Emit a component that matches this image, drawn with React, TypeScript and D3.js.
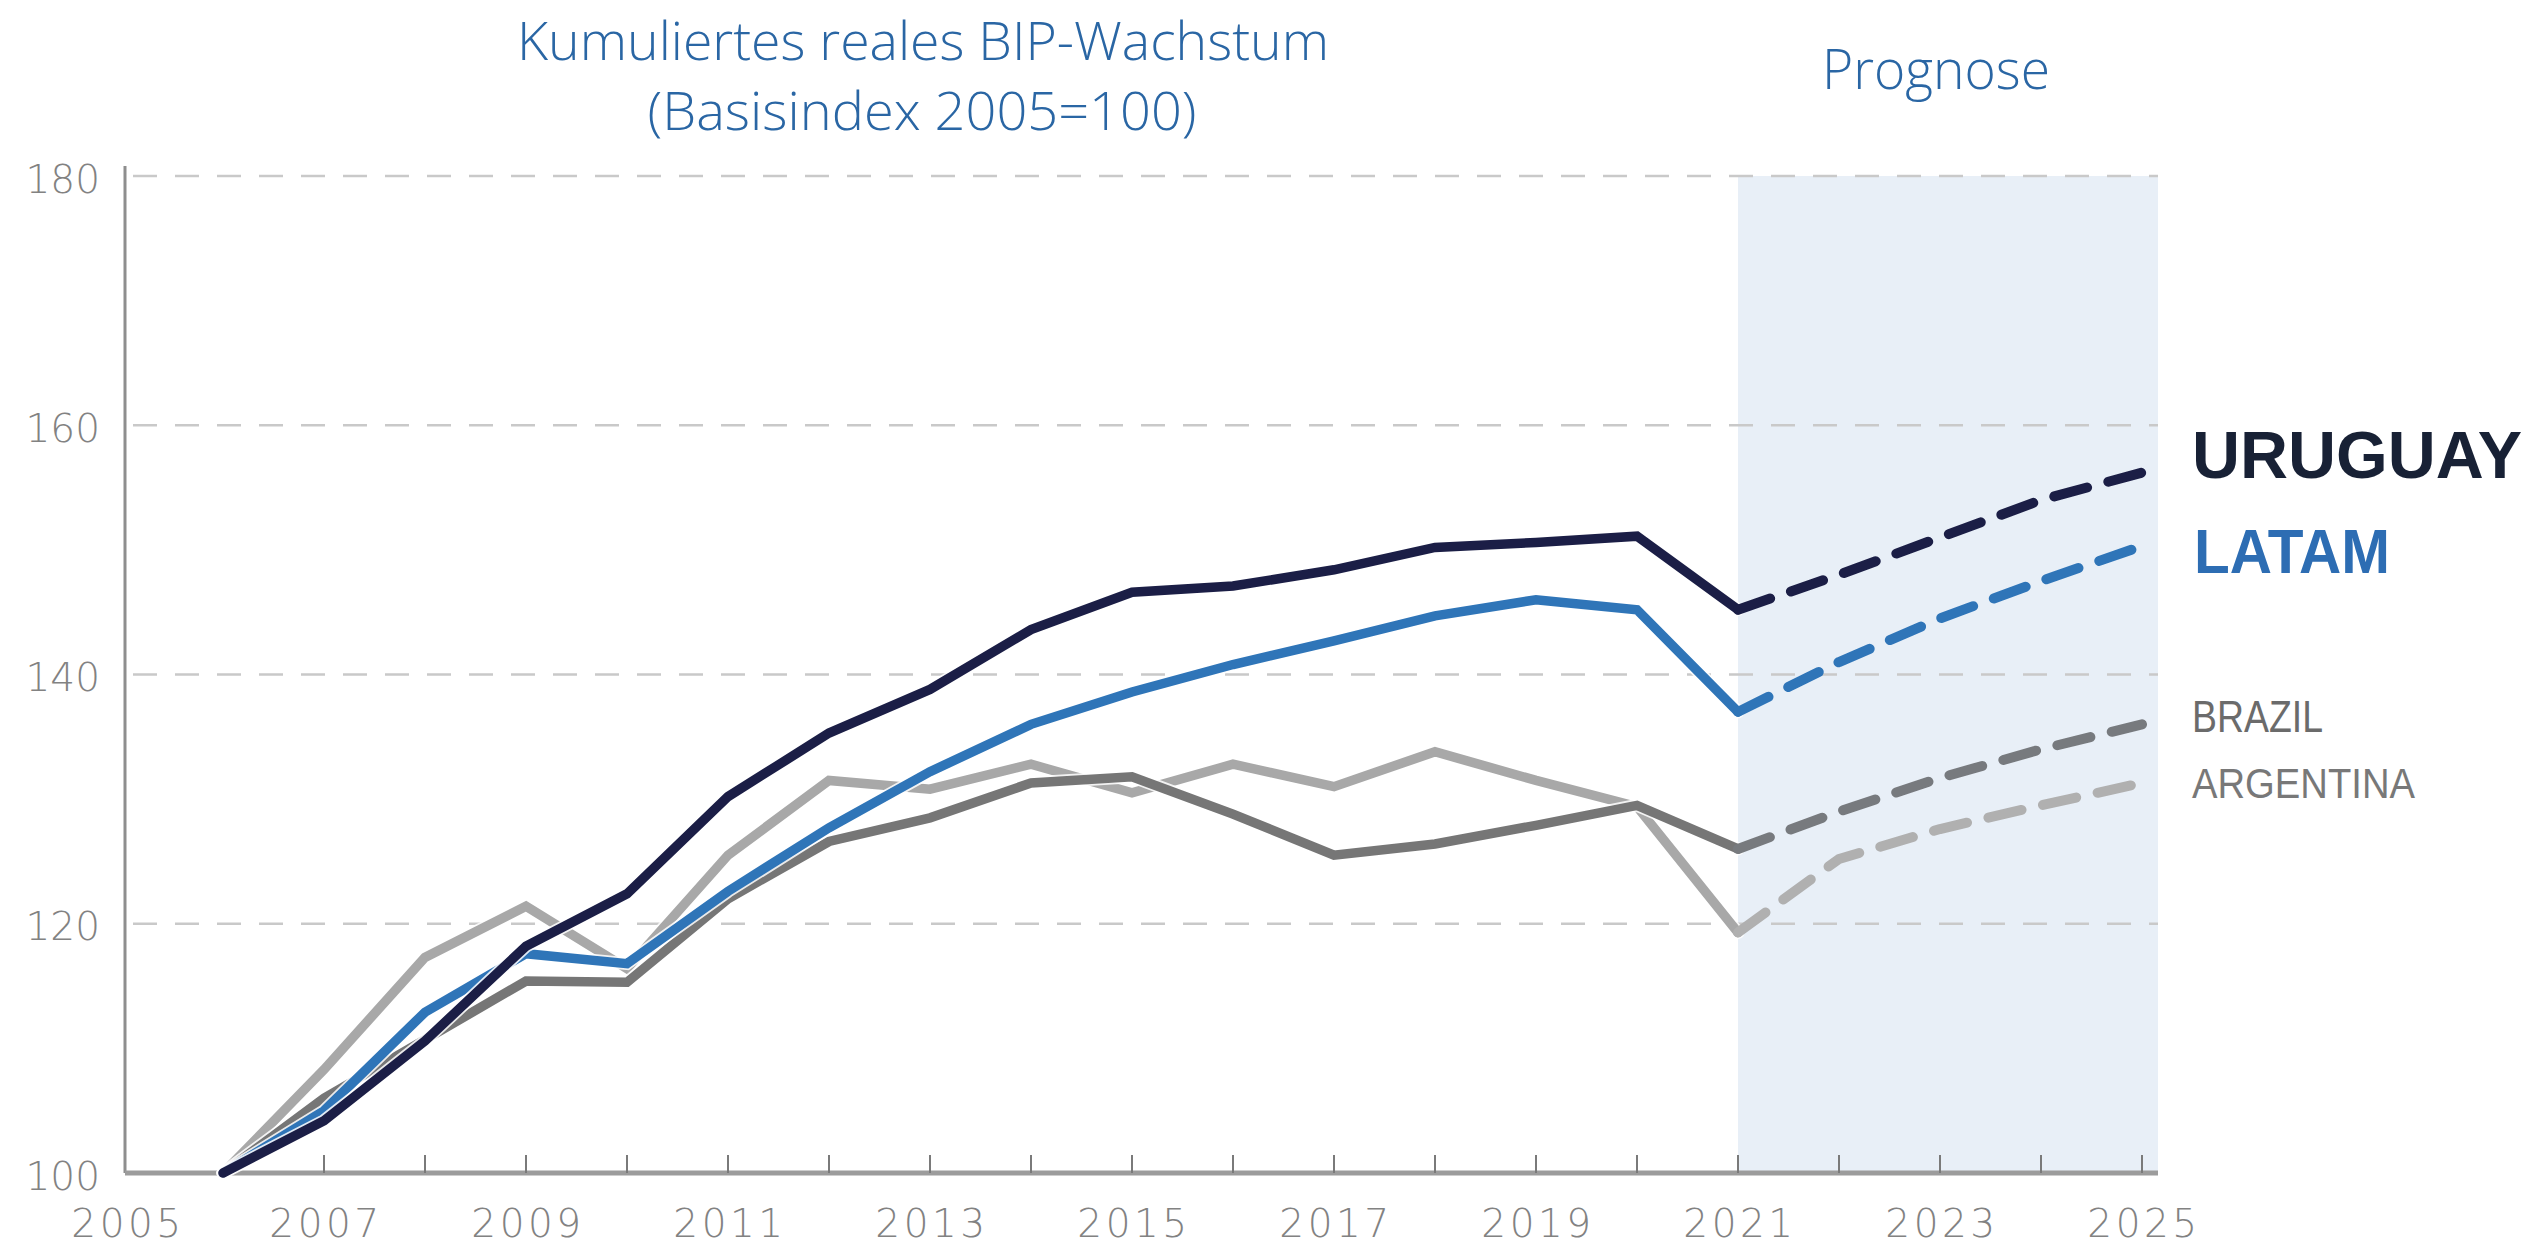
import React from "react";
import * as d3 from "d3";

// ---- data ----
const years = [2006, 2007, 2008, 2009, 2010, 2011, 2012, 2013, 2014, 2015, 2016, 2017, 2018, 2019, 2020, 2021];
const uruguay = [100, 104.2, 110.6, 118.2, 122.4, 130.2, 135.3, 138.8, 143.6, 146.6, 147.1, 148.4, 150.2, 150.6, 151.1, 145.2];
const latam = [100, 105.0, 112.9, 117.6, 116.8, 122.6, 127.7, 132.2, 136.0, 138.6, 140.8, 142.7, 144.7, 146.0, 145.2, 137.0];
const brazil = [100, 106.0, 110.7, 115.4, 115.3, 122.0, 126.6, 128.5, 131.3, 131.8, 128.8, 125.5, 126.4, 127.9, 129.5, 126.0];
const argentina = [100, 108.3, 117.3, 121.4, 116.4, 125.5, 131.5, 130.8, 132.8, 130.5, 132.8, 131.0, 133.8, 131.5, 129.4, 119.3];

const forecastYears = [2021, 2022, 2023, 2024, 2025];
const uruguayForecast = [145.2, 148.0, 151.0, 154.0, 156.2];
const latamForecast = [137.0, 141.0, 144.5, 147.5, 150.3];
const brazilForecast = [126.0, 129.0, 131.7, 134.0, 136.0];
const argentinaForecast = [119.3, 125.2, 127.6, 129.5, 131.3];

const yTicks = [100, 120, 140, 160, 180];
const xLabelYears = [2005, 2007, 2009, 2011, 2013, 2015, 2017, 2019, 2021, 2023, 2025];
const xTickYears = [2007, 2008, 2009, 2010, 2011, 2012, 2013, 2014, 2015, 2016, 2017, 2018, 2019, 2020, 2021, 2022, 2023, 2024, 2025];

const titleLine1 = "Kumuliertes reales BIP-Wachstum";
const titleLine2 = "(Basisindex 2005=100)";
const forecastTitle = "Prognose";

const seriesNames = ["ARGENTINA", "BRAZIL", "LATAM", "URUGUAY"];

export default function App() {
  const W = 2535;
  const H = 1247;
  const x = d3.scaleLinear().domain([2005, 2025]).range([122, 2142]);
  const y = d3.scaleLinear().domain([100, 180]).range([1173, 176]);
  const plotLeft = x(2005) + 3;
  const plotRight = x(2025) + 16;
  const bandLeft = x(2021);

  const line = d3
    .line<[number, number]>()
    .x((d) => x(d[0]))
    .y((d) => y(d[1]))
    .curve(d3.curveLinear);

  const hist = (vals: number[]) => line(years.map((yr, i) => [yr, vals[i]] as [number, number])) || "";
  const fc = (vals: number[]) => line(forecastYears.map((yr, i) => [yr, vals[i]] as [number, number])) || "";

  const series = [
    { name: seriesNames[0], h: argentina, f: argentinaForecast, color: "#a8a8a8", fcolor: "#b0b0b0" },
    { name: seriesNames[1], h: brazil, f: brazilForecast, color: "#767676", fcolor: "#777a7e" },
    { name: seriesNames[2], h: latam, f: latamForecast, color: "#2f75b8", fcolor: "#2f75b8" },
    { name: seriesNames[3], h: uruguay, f: uruguayForecast, color: "#1b1e46", fcolor: "#1b1e46" },
  ];

  const tickFont = "'DejaVu Sans', sans-serif";
  const titleFont = "'Open Sans', sans-serif";
  const labelFont = "'Liberation Sans', Arial, sans-serif";

  return (
    <svg
      width={W}
      height={H}
      viewBox={`0 0 ${W} ${H}`}
      style={{ position: "absolute", left: 0, top: 0, background: "#ffffff" }}
    >
      {/* forecast band */}
      <rect x={bandLeft} y={y(180)} width={plotRight - bandLeft} height={y(100) - y(180)} fill="#e8eff7" />

      {/* gridlines */}
      {yTicks.filter((t) => t > 100).map((t) => (
        <line
          key={"g" + t}
          x1={plotLeft + 8}
          x2={plotRight}
          y1={y(t)}
          y2={y(t)}
          stroke="#c9c9c9"
          strokeWidth={2.5}
          strokeDasharray="24 18"
        />
      ))}

      {/* y axis */}
      <line x1={plotLeft} x2={plotLeft} y1={y(180) - 10} y2={y(100)} stroke="#8e8e8e" strokeWidth={3} />
      {/* x axis */}
      <line x1={plotLeft} x2={plotRight} y1={y(100)} y2={y(100)} stroke="#9c9c9c" strokeWidth={5} />
      {xTickYears.map((t) => (
        <line key={"t" + t} x1={x(t)} x2={x(t)} y1={y(100) - 18} y2={y(100)} stroke="#7a7a7a" strokeWidth={2} />
      ))}

      {/* y labels */}
      {yTicks.map((t) => (
        <text
          key={"yl" + t}
          x={100}
          y={y(t) + 3}
          textAnchor="end"
          dominantBaseline="central"
          fontFamily={tickFont}
          fontWeight={300}
          fontSize={39}
          fill="#828282"
        >
          {t}
        </text>
      ))}

      {/* x labels */}
      {xLabelYears.map((t) => (
        <text
          key={"xl" + t}
          x={(t === 2005 ? x(t) + 4 : x(t)) + 2}
          y={1223}
          textAnchor="middle"
          dominantBaseline="central"
          fontFamily={tickFont}
          fontWeight={300}
          fontSize={39}
          letterSpacing={3.5}
          fill="#828282"
        >
          {t}
        </text>
      ))}

      {/* lines */}
      {series.map((s) => (
        <g key={s.name}>
          <path d={hist(s.h)} fill="none" stroke="#ffffff" strokeWidth={13} strokeLinejoin="miter" strokeLinecap="round" opacity={0.85} />
          <path d={hist(s.h)} fill="none" stroke={s.color} strokeWidth={9.5} strokeLinejoin="miter" strokeLinecap="round" />
          <path
            d={fc(s.f)}
            fill="none"
            stroke={s.fcolor}
            strokeWidth={10}
            strokeLinecap="round"
            strokeLinejoin="round"
            strokeDasharray="34 22"
          />
        </g>
      ))}

      {/* titles */}
      <text
        x={923}
        y={60}
        textAnchor="middle"
        fontFamily={titleFont}
        fontWeight={300}
        fontSize={53}
        fill="#2a66a4"
        textLength={812}
        lengthAdjust="spacingAndGlyphs"
      >
        {titleLine1}
      </text>
      <text
        x={922}
        y={130}
        textAnchor="middle"
        fontFamily={titleFont}
        fontWeight={300}
        fontSize={54}
        fill="#2a66a4"
        textLength={549}
        lengthAdjust="spacingAndGlyphs"
      >
        {titleLine2}
      </text>
      <text
        x={1936}
        y={89}
        textAnchor="middle"
        fontFamily={titleFont}
        fontWeight={300}
        fontSize={55}
        fill="#2a66a4"
        textLength={228}
        lengthAdjust="spacingAndGlyphs"
      >
        {forecastTitle}
      </text>

      {/* series labels */}
      <text x={2192} y={478} fontFamily={labelFont} fontWeight={700} fontSize={67} fill="#182135" textLength={330} lengthAdjust="spacingAndGlyphs">
        {seriesNames[3]}
      </text>
      <text x={2194} y={573} fontFamily={labelFont} fontWeight={700} fontSize={63} fill="#2d6db3" textLength={196} lengthAdjust="spacingAndGlyphs">
        {seriesNames[2]}
      </text>
      <text x={2192} y={732} fontFamily={labelFont} fontWeight={400} fontSize={45} fill="#6b6b6b" textLength={131} lengthAdjust="spacingAndGlyphs">
        {seriesNames[1]}
      </text>
      <text x={2192} y={798} fontFamily={labelFont} fontWeight={400} fontSize={43} fill="#787878" textLength={223} lengthAdjust="spacingAndGlyphs">
        {seriesNames[0]}
      </text>
    </svg>
  );
}
